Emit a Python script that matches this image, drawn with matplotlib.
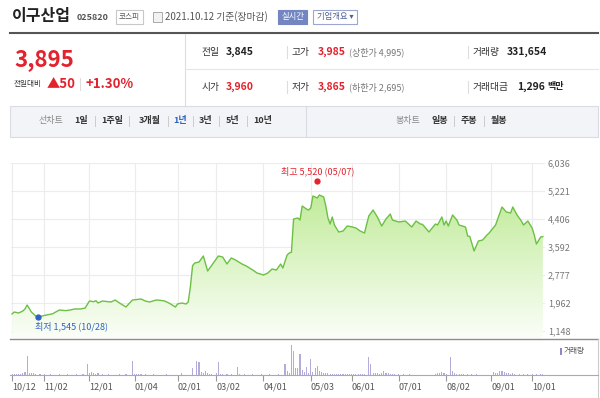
import numpy as np
import matplotlib
matplotlib.use("Agg")
import matplotlib.pyplot as plt
from matplotlib.colors import LinearSegmentedColormap
from matplotlib.patches import Rectangle, Polygon
from matplotlib.lines import Line2D

plt.rcParams['font.family'] = ['Noto Sans CJK KR', 'DejaVu Sans']

# ---------------------------------------------------------
# data
# ---------------------------------------------------------
start = '2020-10-12'
holidays = ['2020-12-25', '2020-12-31', '2021-01-01', '2021-02-11', '2021-02-12',
            '2021-03-01', '2021-05-05', '2021-05-19', '2021-08-16', '2021-09-20',
            '2021-09-21', '2021-09-22', '2021-10-04', '2021-10-11']

# trading session number (0 = 2020-10-12) and closing price
session = [0, 1, 3, 5, 6, 7, 9, 11, 12, 14, 16, 19, 20, 22, 25, 27, 29, 32, 34, 36,
           38, 39, 40, 42, 46, 48, 50, 53, 56, 60, 62, 64, 67, 69, 71, 73, 76, 77, 79, 81,
           82, 83, 84, 85, 87, 89, 91, 93, 94, 96, 98, 100, 102, 104, 107, 109, 112, 114, 117, 119,
           121, 123, 125, 126, 128, 129, 130, 131, 133, 134, 135, 137, 138, 139, 140, 142, 143, 145, 146, 147,
           148, 149, 150, 152, 154, 156, 158, 160, 162, 164, 166, 168, 170, 172, 174, 176, 177, 180, 183, 186,
           188, 190, 191, 194, 197, 198, 200, 201, 202, 203, 205, 207, 208, 211, 212, 213, 215, 217, 219, 221,
           222, 225, 228, 230, 232, 233, 235, 237, 238, 240, 242, 243, 244, 246, 247]
close = [1642, 1700, 1671, 1729, 1787, 1904, 1700, 1584, 1545, 1584, 1613, 1650, 1690, 1758, 1740, 1758, 1787, 1790, 1816, 2020,
         2000, 2030, 1962, 2020, 1991, 2049, 1962, 1846, 2049, 2078, 2020, 1991, 2049, 2040, 2020, 1962, 1846, 1933, 1962, 1933,
         2000, 2450, 3050, 3126, 3155, 3330, 2893, 3068, 3155, 3330, 3301, 3097, 3272, 3213, 3097, 3039, 2922, 2835, 2777, 2835,
         2951, 2922, 3097, 2980, 3359, 3417, 3440, 4406, 4436, 4377, 4785, 4697, 4668, 4727, 5076, 5018, 5105, 5047, 4785, 4436,
         4261, 4465, 4232, 4028, 4057, 4203, 4180, 4145, 4057, 3999, 4494, 4668, 4465, 4203, 4406, 4552, 4377, 4319, 4348, 4174,
         4348, 4261, 4250, 4028, 4261, 4232, 4465, 4232, 4348, 4203, 4523, 4377, 4232, 4174, 3912, 3900, 3475, 3766, 3795, 3941,
         3999, 4232, 4756, 4610, 4581, 4756, 4523, 4348, 4232, 4348, 4145, 3941, 3679, 3883, 3895]

# volume (thousand shares)
vol_session = [0, 1, 2, 3, 4, 5, 6, 7, 8, 9, 10, 11, 13, 15, 18, 22, 26, 30, 33, 35,
               36, 37, 38, 39, 40, 42, 45, 50, 53, 56, 57, 58, 59, 60, 62, 66, 72, 79, 84, 86,
               87, 88, 89, 90, 91, 92, 93, 95, 96, 97, 98, 100, 102, 105, 106, 108, 112, 116, 120, 124,
               127, 128, 129, 130, 131, 132, 133, 134, 135, 136, 137, 138, 139, 140, 141, 142, 143, 144, 145, 146,
               147, 148, 149, 150, 151, 152, 153, 154, 155, 156, 157, 158, 159, 160, 161, 162, 163, 164, 166, 167,
               168, 169, 170, 171, 172, 173, 174, 175, 176, 177, 178, 180, 182, 185, 197, 198, 199, 200, 201, 202,
               204, 205, 206, 207, 208, 209, 210, 212, 214, 216, 224, 225, 226, 227, 228, 229, 230, 231, 232, 233,
               234, 236, 238, 240, 242, 244, 246, 247]
vol_k = [300, 250, 300, 350, 400, 700, 1000, 5700, 700, 500, 500, 300, 250, 200, 250, 200, 250, 200, 300, 3300,
         600, 1000, 700, 400, 500, 300, 300, 250, 300, 4200, 400, 400, 350, 400, 300, 250, 300, 700, 2200, 4200,
         4000, 1000, 600, 1200, 500, 400, 400, 500, 3800, 400, 350, 300, 350, 2300, 400, 300, 250, 300, 250, 300,
         3300, 1300, 600, 9000, 7300, 2000, 2000, 6300, 1500, 800, 2300, 700, 4700, 1000, 2000, 2700, 1300, 800, 600, 500,
         500, 450, 400, 400, 350, 400, 350, 350, 300, 350, 300, 300, 350, 300, 300, 350, 300, 400, 5300, 3300,
         700, 500, 700, 400, 500, 1200, 500, 600, 400, 400, 350, 300, 250, 300, 300, 500, 700, 1000, 600, 400,
         5300, 1200, 500, 400, 400, 350, 300, 300, 300, 250, 1000, 600, 700, 1300, 1300, 800, 700, 500, 400, 500,
         400, 300, 350, 300, 300, 250, 300, 330]

tick_dates = ['2020-10-12', '2020-11-02', '2020-12-01', '2021-01-04', '2021-02-01', '2021-03-02',
              '2021-04-01', '2021-05-03', '2021-06-01', '2021-07-01', '2021-08-02', '2021-09-01', '2021-10-01']
tick_labels = ['10/12', '11/02', '12/01', '01/04', '02/01', '03/02',
               '04/01', '05/03', '06/01', '07/01', '08/02', '09/01', '10/01']
price_ticks = [1148, 1962, 2777, 3592, 4406, 5221, 6036]

high_date, high_price = '2021-05-07', 5520
low_date, low_price = '2020-10-28', 1545

# ---------------------------------------------------------
# helpers: pixel layout -> figure fraction
# ---------------------------------------------------------
W, H = 600, 398
RED = '#e3222d'
BLUE = '#2f63c0'

fig = plt.figure(figsize=(W / 100, H / 100), dpi=100)


def T(x, y, s, **kw):
    kw.setdefault('va', 'center')
    fig.text(x / W, 1 - y / H, s, **kw)


def hline(x0, x1, y, **kw):
    fig.add_artist(Line2D([x0 / W, x1 / W], [1 - y / H, 1 - y / H], **kw))


def vline(x, y0, y1, **kw):
    fig.add_artist(Line2D([x / W, x / W], [1 - y0 / H, 1 - y1 / H], **kw))


def box(x0, y0, x1, y1, **kw):
    fig.add_artist(Rectangle((x0 / W, 1 - y1 / H), (x1 - x0) / W, (y1 - y0) / H, **kw))


# ---------------------------------------------------------
# header
# ---------------------------------------------------------
T(12, 16, '이구산업', size=11.5, weight='bold', color='#222')
T(77, 18, '025820', size=6.5, weight='bold', color='#555')
box(116, 10, 143, 24, facecolor='white', edgecolor='#c8c8c8', lw=0.8)
T(129.5, 17, '코스피', size=5.5, color='#555', ha='center')
box(153, 12, 162, 22, facecolor='#f2f2f2', edgecolor='#aaa', lw=0.7)
T(165, 17, '2021.10.12 기준(장마감)', size=7, color='#555')
box(278, 10, 307, 24, facecolor='#7386c2', edgecolor='#7386c2', lw=0.8)
T(292.5, 17, '실시간', size=6, color='white', ha='center')
box(313, 10, 357, 24, facecolor='white', edgecolor='#9aa6cf', lw=0.8)
T(335, 17, '기업개요 ▾', size=6, color='#4f5f98', ha='center')

hline(10, 598, 33, color='#555', lw=1.5)
vline(185, 34, 106, color='#dddddd', lw=0.8)
hline(185, 598, 69, color='#e6e6e6', lw=0.8)

T(14, 60, '3,895', size=16, weight='bold', color=RED)
T(14, 84, '전일대비', size=5.5, color='#333')
T(47, 84, '▲50', size=9.5, weight='bold', color=RED)
vline(80, 78, 90, color='#dddddd', lw=0.8)
T(85, 84, '+1.30%', size=9.5, weight='bold', color=RED)

rows = [
    (52, '전일', '3,845', '#222', '고가', '3,985', '(상한가 4,995)', '거래량', '331,654'),
    (87, '시가', '3,960', RED, '저가', '3,865', '(하한가 2,695)', '거래대금', '1,296'),
]
for y, l1, v1, c1, l2, v2, n2, l3, v3 in rows:
    T(202, y, l1, size=7, color='#333')
    T(226, y, v1, size=7.5, weight='bold', color=c1)
    vline(287, y - 6, y + 6, color='#dddddd', lw=0.8)
    T(292, y, l2, size=7, color='#333')
    T(318, y, v2, size=7.5, weight='bold', color=RED)
    T(349, y, n2, size=6.5, color='#777')
    vline(468, y - 6, y + 6, color='#dddddd', lw=0.8)
    T(473, y, l3, size=7, color='#333')
    T(507 if l3 == '거래량' else 517, y, v3, size=7.5, weight='bold', color='#222')
T(547, 87, '백만', size=6.5, weight='bold', color='#222')

# period buttons
box(10, 106, 598, 137, facecolor='#f3f4f8', edgecolor='#dadce3', lw=0.8)
vline(306, 106, 137, color='#dadce3', lw=0.8)
T(51, 121, '선차트', size=6.5, color='#888', ha='center')
periods = [(81, '1일'), (112, '1주일'), (150, '3개월'), (180, '1년'), (206, '3년'), (233, '5년'), (263, '10년')]
for x, s in periods:
    T(x, 121, s, size=6.5, weight='bold', color=BLUE if s == '1년' else '#333', ha='center')
for x in [95, 129, 168, 193, 219, 247]:
    vline(x, 116, 126, color='#cccccc', lw=0.7)
T(408, 121, '봉차트', size=6.5, color='#888', ha='center')
for x, s in [(440, '일봉'), (469, '주봉'), (499, '월봉')]:
    T(x, 121, s, size=6.5, weight='bold', color='#333', ha='center')
for x in [454, 484]:
    vline(x, 116, 126, color='#cccccc', lw=0.7)

# ---------------------------------------------------------
# price chart
# ---------------------------------------------------------
tick_sess = np.busday_count(start, tick_dates, holidays=holidays)
hi_s = np.busday_count(start, high_date, holidays=holidays)
lo_s = np.busday_count(start, low_date, holidays=holidays)

ax = fig.add_axes([11 / W, 1 - 338 / H, 534 / W, 175 / H])
ax.set_xlim(-0.5, 248)
ax.set_ylim(944, 6036)
for sp in ax.spines.values():
    sp.set_visible(False)
ax.set_xticks(tick_sess)
ax.set_yticks(price_ticks)
ax.set_yticklabels([f'{v:,}' for v in price_ticks])
ax.yaxis.tick_right()
ax.tick_params(axis='x', length=0, labelbottom=False)
ax.tick_params(axis='y', length=0, pad=2, labelsize=6.5, labelcolor='#777')
ax.grid(color='#ececec', lw=0.8)
ax.set_axisbelow(True)

# gradient fill under the line
x = np.array(session)
y = np.array(close)
poly = Polygon(np.column_stack([np.r_[x[0], x, x[-1]], np.r_[944, y, 944]]),
               facecolor='none', edgecolor='none')
ax.add_patch(poly)
cmap = LinearSegmentedColormap.from_list('g', ['#fbfef8', '#bfeb97'])
grad = np.linspace(0, 1, 256).reshape(-1, 1)
im = ax.imshow(grad, extent=[x[0], x[-1], 944, 5300], origin='lower',
               aspect='auto', cmap=cmap, zorder=1)
im.set_clip_path(poly)
ax.plot(x, y, color='#6cc044', lw=1.0, zorder=3)

ax.plot(hi_s, high_price, 'o', color=RED, ms=3.5, zorder=4)
ax.annotate(f'최고 {high_price:,} (05/07)', (hi_s, high_price), xytext=(0, 6.5),
            textcoords='offset points', ha='center', va='center', size=6.5, color=RED)
ax.plot(lo_s, low_price, 'o', color=BLUE, ms=3.5, zorder=4)
ax.annotate(f'최저 {low_price:,} (10/28)', (lo_s, low_price), xytext=(-2, -6.5),
            textcoords='offset points', ha='left', va='center', size=6.5, color=BLUE)

# ---------------------------------------------------------
# volume chart
# ---------------------------------------------------------
hline(10, 598, 339, color='#8c8c8c', lw=1.0)
vline(598, 339, 398, color='#cccccc', lw=0.8)

axv = fig.add_axes([11 / W, 1 - 375 / H, 534 / W, 35 / H])
axv.set_xlim(-0.5, 248)
axv.set_ylim(0, 10500)
for sp in axv.spines.values():
    sp.set_visible(False)
axv.bar(vol_session, vol_k, width=0.5, color='#b3acdb')
axv.set_yticks([])
axv.set_xticks(tick_sess)
axv.set_xticklabels(tick_labels, ha='left')
axv.tick_params(axis='x', length=4, color='#999', pad=1.5, labelsize=6.5, labelcolor='#555')
hline(10, 598, 375, color='#aaaaaa', lw=0.8)

box(560, 348, 562, 355, facecolor='#8f86c6', edgecolor='none')
T(564, 351, '거래량', size=5.5, color='#555')

fig.savefig('out.png', dpi=100)
